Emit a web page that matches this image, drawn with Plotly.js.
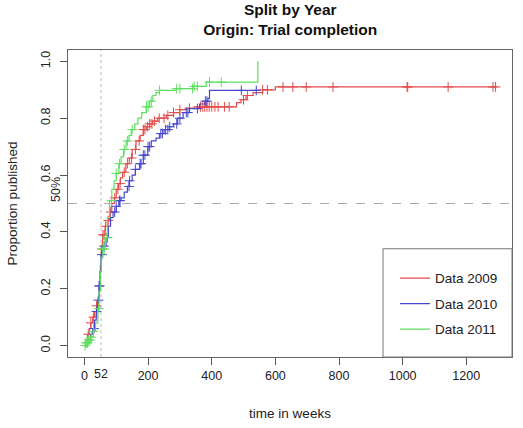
<!DOCTYPE html>
<html>
<head>
<meta charset="utf-8">
<script src="https://cdn.plot.ly/plotly-3.0.1.min.js"></script>
<style>
  html, body { margin: 0; padding: 0; background: #fff; }
  #chart { width: 523px; height: 428px; }
</style>
</head>
<body>
<div id="chart"></div>
<script>
// Cumulative proportion published (step points: time in weeks, proportion)
const t2009 = [0, 5, 10, 15, 20, 26, 32, 38, 43, 47, 50, 53, 57, 65, 72, 79, 86, 94, 100, 107, 113, 120, 130, 141, 150, 162, 175, 185, 194, 205, 214, 230, 257, 280, 299, 320, 345, 478, 492, 508, 530, 560, 600, 1292];
const p2009 = [0, 0.02, 0.04, 0.06, 0.08, 0.10, 0.12, 0.14, 0.17, 0.22, 0.28, 0.34, 0.39, 0.42, 0.44, 0.47, 0.50, 0.52, 0.55, 0.57, 0.59, 0.61, 0.64, 0.66, 0.69, 0.72, 0.74, 0.76, 0.77, 0.78, 0.79, 0.80, 0.81, 0.82, 0.83, 0.835, 0.84, 0.855, 0.865, 0.88, 0.89, 0.90, 0.91, 0.91];

const t2010 = [0, 8, 14, 20, 26, 32, 37, 42, 46, 49, 52, 56, 68, 75, 82, 90, 100, 108, 115, 125, 135, 141, 150, 160, 173, 185, 199, 210, 225, 236, 250, 267, 280, 293, 310, 330, 362, 380, 388, 393, 545];
const p2010 = [0, 0.01, 0.02, 0.04, 0.06, 0.09, 0.12, 0.16, 0.21, 0.26, 0.32, 0.35, 0.38, 0.42, 0.45, 0.47, 0.49, 0.51, 0.52, 0.54, 0.56, 0.58, 0.60, 0.62, 0.64, 0.67, 0.70, 0.72, 0.73, 0.746, 0.76, 0.77, 0.78, 0.80, 0.82, 0.834, 0.85, 0.86, 0.87, 0.898, 0.898];

const t2011 = [0, 5, 12, 20, 28, 35, 42, 46, 50, 53, 58, 65, 72, 79, 86, 93, 100, 108, 115, 123, 131, 140, 147, 158, 168, 180, 194, 205, 215, 225, 236, 288, 341, 383, 545];
const p2011 = [0, 0.01, 0.02, 0.03, 0.05, 0.08, 0.13, 0.19, 0.26, 0.31, 0.34, 0.38, 0.45, 0.51, 0.55, 0.58, 0.606, 0.64, 0.664, 0.69, 0.72, 0.74, 0.76, 0.78, 0.80, 0.82, 0.84, 0.86, 0.88, 0.89, 0.898, 0.904, 0.912, 0.927, 1.0];

// Censoring times (weeks)
const c2009 = [12, 20, 28, 38, 55, 58, 62, 66, 75, 82, 95, 105, 112, 125, 135, 148, 160, 172, 185, 190, 198, 205, 212, 220, 235, 250, 262, 280, 300, 330, 365, 372, 378, 385, 392, 400, 410, 420, 440, 455, 500, 512, 560, 575, 624, 655, 697, 781, 1014, 1016, 1143, 1284, 1292];
const c2010 = [30, 38, 44, 46, 48, 55, 62, 72, 95, 100, 110, 112, 140, 142, 160, 175, 178, 185, 190, 200, 205, 240, 245, 255, 262, 268, 290, 300, 320, 325, 355, 380, 385, 493, 540];
const c2011 = [2, 5, 8, 10, 14, 18, 22, 28, 45, 58, 62, 70, 85, 100, 110, 125, 135, 150, 195, 200, 210, 236, 290, 300, 340, 345, 355, 393, 430];

const seriesNames = ['Data 2009', 'Data 2010', 'Data 2011'];
const seriesColors = ['#e44b4b', '#4747cf', '#5fdf5f'];

const xTicks = [0, 200, 400, 600, 800, 1000, 1200];
const yTicks = [0, 0.2, 0.4, 0.6, 0.8, 1.0];
const yTickText = ['0.0', '0.2', '0.4', '0.6', '0.8', '1.0'];
const markTime = 52;
const markLevel = 0.5;

// value of a step curve at time t
function stepAt(ts, ps, t) {
  let v = ps[0];
  for (let i = 0; i < ts.length; i++) { if (ts[i] <= t) v = ps[i]; else break; }
  return v;
}

const curves = [[t2009, p2009, c2009], [t2010, p2010, c2010], [t2011, p2011, c2011]];
const traces = [];
curves.forEach(([ts, ps, cs], i) => {
  traces.push({
    x: ts, y: ps, type: 'scatter', mode: 'lines',
    line: { shape: 'hv', color: seriesColors[i], width: 1.2 },
    name: seriesNames[i], legendgroup: 'g' + i, hoverinfo: 'skip'
  });
  traces.push({
    x: cs, y: cs.map(t => stepAt(ts, ps, t)), type: 'scatter', mode: 'markers',
    marker: { symbol: 'cross-thin', size: 7, line: { width: 1, color: seriesColors[i] } },
    showlegend: false, legendgroup: 'g' + i, hoverinfo: 'skip'
  });
});

const font = { family: 'Liberation Sans, Arial, Helvetica, sans-serif', color: '#222' };

const layout = {
  width: 523, height: 428,
  margin: { l: 68, r: 11, t: 50, b: 71, pad: 0 },
  paper_bgcolor: '#fff', plot_bgcolor: '#fff',
  font: Object.assign({ size: 12.5 }, font),
  showlegend: true,
  title: {
    text: '<b>Split by Year</b><br><b>Origin: Trial completion</b>',
    font: Object.assign({}, font, { size: 15.5, color: '#111' }),
    x: 0.555, xanchor: 'center', y: 0.965, yanchor: 'middle'
  },
  xaxis: {
    range: [-51.7, 1343.7], tickvals: xTicks, ticktext: xTicks.map(String),
    ticks: 'outside', ticklen: 7, tickcolor: '#555', showgrid: false, zeroline: false,
    showline: true, mirror: true, linecolor: '#666', linewidth: 1,
    tickfont: { size: 12.5 },
    title: { text: 'time in weeks', font: { size: 13.5 }, standoff: 26 }
  },
  yaxis: {
    range: [-0.04, 1.04], tickvals: yTicks, ticktext: yTickText, tickangle: -90,
    ticks: 'outside', ticklen: 7, tickcolor: '#555', showgrid: false, zeroline: false,
    showline: true, mirror: true, linecolor: '#666', linewidth: 1,
    tickfont: { size: 12.5 }, ticklabelstandoff: 5,
    title: { text: 'Proportion published', font: { size: 13.5 }, standoff: 18 }
  },
  legend: {
    x: 0.7365, xanchor: 'left', y: 0.307, yanchor: 'top',
    bgcolor: 'rgba(0,0,0,0)', borderwidth: 0,
    font: { size: 13.5, color: '#222' }, tracegroupgap: 5, itemwidth: 30
  },
  shapes: [
    { type: 'line', xref: 'paper', yref: 'y', x0: 0, x1: 1, y0: markLevel, y1: markLevel,
      line: { color: '#aaa', width: 1, dash: 'dash' }, layer: 'below' },
    { type: 'line', xref: 'x', yref: 'paper', x0: markTime, x1: markTime, y0: 0, y1: 1,
      line: { color: '#bbb', width: 1, dash: 'dot' }, layer: 'below' },
    { type: 'rect', xref: 'paper', yref: 'paper', x0: 0.7095, x1: 1, y0: 0, y1: 0.3526,
      line: { color: '#777', width: 1 }, fillcolor: 'rgba(0,0,0,0)' }
  ],
  annotations: [
    { xref: 'x', yref: 'paper', x: markTime, y: -0.055, text: String(markTime), showarrow: false,
      font: { size: 12.5 }, xanchor: 'center', yanchor: 'middle' },
    { xref: 'paper', yref: 'y', x: -0.034, y: markLevel, text: '50%', textangle: -90, showarrow: false,
      font: { size: 12.5 }, xanchor: 'center', yanchor: 'bottom', yshift: 0, xshift: 3 }
  ]
};

Plotly.newPlot('chart', traces, layout, { staticPlot: true, displayModeBar: false });
</script>
</body>
</html>
